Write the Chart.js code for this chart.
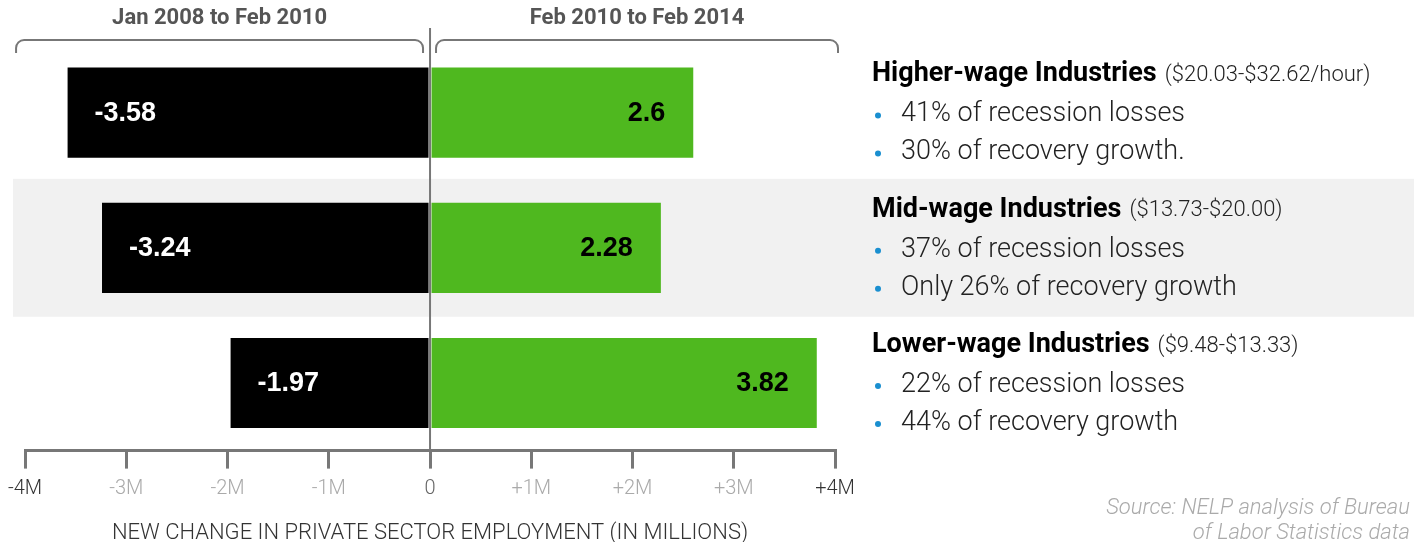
<!DOCTYPE html>
<html>
<head>
<meta charset="utf-8">
<script src="https://cdn.jsdelivr.net/npm/chart.js@4"></script>
<style>
  body { margin: 0; background: #fff; }
</style>
</head>
<body>
<canvas id="myChart" width="1421" height="542"></canvas>
<script>
const categories = ['Higher-wage Industries', 'Mid-wage Industries', 'Lower-wage Industries'];
const wageRanges = ['($20.03-$32.62/hour)', '($13.73-$20.00)', '($9.48-$13.33)'];
const recessionLosses = [-3.58, -3.24, -1.97];
const recoveryGrowth = [2.6, 2.28, 3.82];
const lossNotes = ['41% of recession losses', '37% of recession losses', '22% of recession losses'];
const growthNotes = ['30% of recovery growth.', 'Only 26% of recovery growth', '44% of recovery growth'];
const periods = ['Jan 2008 to Feb 2010', 'Feb 2010 to Feb 2014'];

const lineGrey = '#777';

// grey band behind middle row
const bandPlugin = {
  id: 'band',
  beforeDatasetsDraw(chart) {
    const { ctx } = chart;
    const y = chart.scales.y;
    const c = y.getPixelForValue(1);
    const half = (y.getPixelForValue(1) - y.getPixelForValue(0)) * 0.51;
    ctx.save();
    ctx.fillStyle = '#f1f1f1';
    ctx.fillRect(13, c - half, 1401, half * 2);
    ctx.restore();
  }
};

// zero line, brackets, headers, bar labels, side notes
const annotatePlugin = {
  id: 'annotate',
  afterDatasetsDraw(chart) {
    const { ctx, chartArea } = chart;
    const x = chart.scales.x;
    const zero = x.getPixelForValue(0);
    ctx.save();

    // zero line
    ctx.strokeStyle = lineGrey;
    ctx.lineWidth = 2;
    ctx.beginPath();
    ctx.moveTo(zero, 28);
    ctx.lineTo(zero, chartArea.bottom);
    ctx.stroke();

    // brackets
    const bracket = (x1, x2) => {
      const yb = 40, r = 8;
      ctx.beginPath();
      ctx.moveTo(x1, 53);
      ctx.arcTo(x1, yb, x1 + r, yb, r);
      ctx.lineTo(x2 - r, yb);
      ctx.arcTo(x2, yb, x2, yb + r, r);
      ctx.lineTo(x2, 53);
      ctx.stroke();
    };
    const left = x.getPixelForValue(-4), right = x.getPixelForValue(4);
    bracket(left - 9, zero - 7);
    bracket(zero + 6, right + 3);

    ctx.fillStyle = '#555';
    ctx.font = 'bold 22px Roboto';
    ctx.textAlign = 'center';
    ctx.textBaseline = 'middle';
    ctx.fillText(periods[0], (left - 9 + zero - 7) / 2, 18);
    ctx.fillText(periods[1], (zero + 6 + right + 3) / 2, 18);

    // value labels in bars
    const lossMeta = chart.getDatasetMeta(0);
    const growMeta = chart.getDatasetMeta(1);
    ctx.font = 'bold 27px "Liberation Sans"';
    lossMeta.data.forEach((bar, i) => {
      ctx.fillStyle = '#fff';
      ctx.textAlign = 'left';
      ctx.fillText(recessionLosses[i].toFixed(2).replace(/0$/, ''), bar.x + 27, bar.y + 1);
    });
    growMeta.data.forEach((bar, i) => {
      ctx.fillStyle = '#000';
      ctx.textAlign = 'right';
      ctx.fillText(String(recoveryGrowth[i]), bar.x - 28, bar.y + 1);
    });

    // side notes
    const tx = 872;
    growMeta.data.forEach((bar, i) => {
      const cy = bar.y + 2;
      ctx.textAlign = 'left';
      ctx.fillStyle = '#000';
      ctx.font = 'bold 27px Roboto';
      ctx.fillText(categories[i], tx, cy - 40);
      const w = ctx.measureText(categories[i]).width;
      ctx.font = '300 22px Roboto';
      ctx.fillStyle = '#222';
      ctx.fillText(wageRanges[i], tx + w + 8, cy - 39);

      ctx.font = '300 27px Roboto';
      [lossNotes[i], growthNotes[i]].forEach((t, k) => {
        const ly = cy + k * 38;
        ctx.fillStyle = '#1a8fd0';
        ctx.beginPath();
        ctx.arc(tx + 6, ly + 1, 3, 0, Math.PI * 2);
        ctx.fill();
        ctx.fillStyle = '#222';
        ctx.fillText(t, tx + 29, ly);
      });
    });

    // source
    ctx.font = 'italic 300 22px Roboto';
    ctx.fillStyle = '#aaa';
    ctx.textAlign = 'right';
    ctx.fillText('Source: NELP analysis of Bureau', 1410, 508);
    ctx.fillText('of Labor Statistics data', 1410, 533);

    ctx.restore();
  }
};

new Chart(document.getElementById('myChart'), {
  type: 'bar',
  data: {
    labels: categories,
    datasets: [{
      label: 'Recession',
      data: recessionLosses,
      backgroundColor: '#000',
      categoryPercentage: 1,
      barPercentage: 0.667
    }, {
      label: 'Recovery',
      data: recoveryGrowth,
      backgroundColor: '#4fb81f',
      categoryPercentage: 1,
      barPercentage: 0.667
    }]
  },
  options: {
    indexAxis: 'y',
    responsive: false,
    animation: false,
    layout: { padding: { top: 45, left: 22, right: 586, bottom: -6 } },
    plugins: {
      legend: { display: false },
      tooltip: { enabled: false }
    },
    scales: {
      x: {
        stacked: true,
        min: -4,
        max: 4,
        ticks: {
          stepSize: 1,
          padding: 8,
          font: { family: 'Roboto', size: 20, weight: '300' },
          color: (c) => {
            const v = c.tick.value;
            if (v === -4 || v === 4) return '#333';
            if (v === 0) return '#666';
            return '#aaa';
          },
          callback: (v) => v === 0 ? '0' : (v > 0 ? '+' : '') + v + 'M'
        },
        grid: {
          drawOnChartArea: false,
          drawTicks: true,
          tickLength: 18,
          color: lineGrey,
          lineWidth: 3
        },
        border: { display: true, color: lineGrey, width: 3 },
        title: {
          display: true,
          text: 'NEW CHANGE IN PRIVATE SECTOR EMPLOYMENT (IN MILLIONS)',
          color: '#333',
          font: { family: 'Roboto', size: 22, weight: '300' },
          padding: { top: 12, bottom: 1 }
        }
      },
      y: {
        stacked: true,
        display: false
      }
    }
  },
  plugins: [bandPlugin, annotatePlugin]
});
</script>
</body>
</html>
